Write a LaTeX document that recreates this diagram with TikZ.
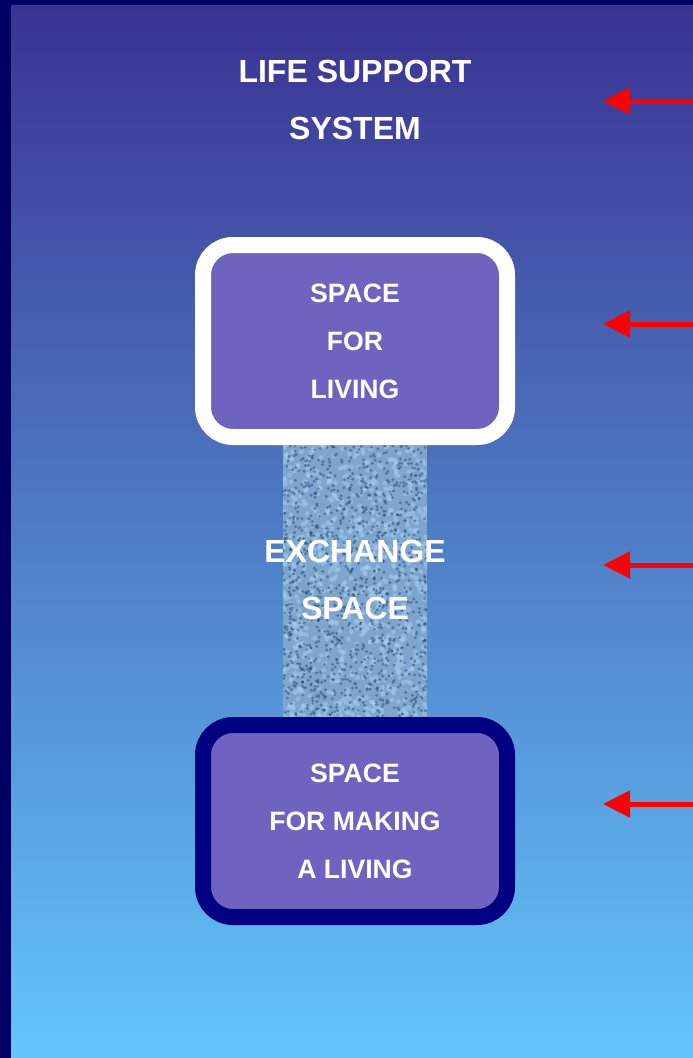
\documentclass[tikz,border=0pt]{standalone}
\usepackage{fontspec}
\setmainfont{Liberation Sans}
\usetikzlibrary{arrows.meta,positioning}

\definecolor{bgtop}{RGB}{58,50,145}
\definecolor{bgbot}{RGB}{99,198,250}
\definecolor{frame}{RGB}{0,0,100}
\definecolor{boxfill}{RGB}{110,100,192}
\definecolor{navybox}{RGB}{0,0,128}
\definecolor{grain}{RGB}{125,165,205}
\definecolor{speck}{RGB}{40,70,110}
\definecolor{glint}{RGB}{165,205,238}
\definecolor{arrowred}{RGB}{255,0,0}

\tikzset{
  room/.style={rounded corners=30pt, line width=16pt, fill=boxfill, minimum width=304pt,
    minimum height=192pt, align=center, text=white, font=\fontsize{26.6}{48}\selectfont\bfseries},
  bigtext/.style={align=center, text=white, font=\fontsize{32}{57}\selectfont\bfseries},
  column/.style={fill=grain, minimum width=144pt, minimum height=272pt, inner sep=0pt},
  pointer/.style={-{Triangle[length=27pt,width=26pt]}, line width=5pt, draw=arrowred},
}

\begin{document}
\begin{tikzpicture}[x=1pt,y=-1pt]
\useasboundingbox (0,0) rectangle (693,1058);
% background and frame
\shade[top color=bgtop, bottom color=bgbot] (0,0) rectangle (693,1058);
\fill[frame] (0,0) rectangle (11,1058);
\fill[frame] (0,0) rectangle (693,5);

% exchange column with grain
\node[column] (exchange) at (355,581) {};
\begin{scope}
  \clip (exchange.south west) rectangle (exchange.north east);
  \pgfmathsetseed{42}
  \foreach \k in {1,...,900}{
    \pgfmathsetmacro{\px}{283+144*rnd}
    \pgfmathsetmacro{\py}{445+272*rnd}
    \fill[glint, opacity=0.55] (\px,\py) circle (2.4pt);
  }
  \foreach \k in {1,...,1100}{
    \pgfmathsetmacro{\px}{283+144*rnd}
    \pgfmathsetmacro{\py}{445+272*rnd}
    \fill[speck, opacity=0.5] (\px,\py) circle (1.6pt);
  }
\end{scope}
\node[bigtext] (exchtext) at (355,580) {EXCHANGE\\SPACE};

% the two rooms
\node[room, draw=white] (living) at (355,341) {SPACE\\FOR\\LIVING};
\node[room, draw=navybox] (making) at (355,821) {SPACE\\FOR MAKING\\A LIVING};

\node[bigtext] (support) at (355,100) {LIFE SUPPORT\\SYSTEM};

% arrows from the right edge
\coordinate (tail1) at (693,101);  \coordinate (tip1) at (603,101);
\coordinate (tail2) at (693,324);  \coordinate (tip2) at (603,324);
\coordinate (tail3) at (693,565);  \coordinate (tip3) at (603,565);
\coordinate (tail4) at (693,804);  \coordinate (tip4) at (603,804);
\foreach \n in {1,...,4}
  \draw[pointer] (tail\n) -- (tip\n);
\end{tikzpicture}
\end{document}
